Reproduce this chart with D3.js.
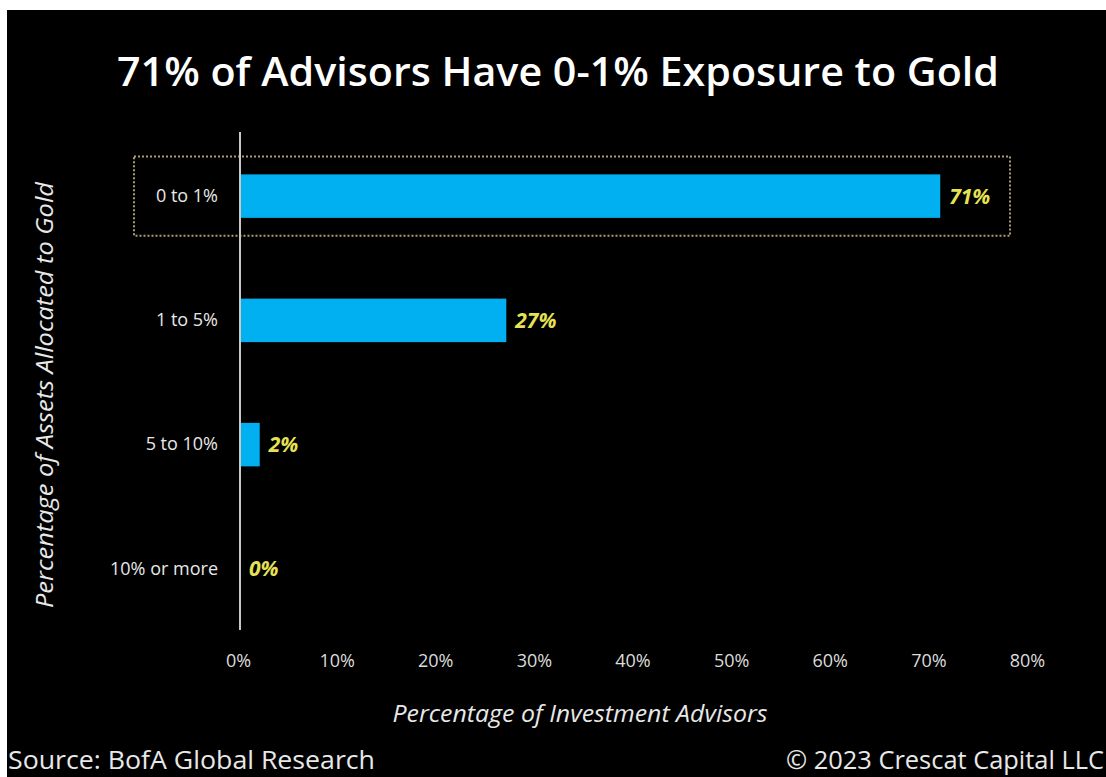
<!DOCTYPE html>
<html>
<head>
<meta charset="utf-8">
<script src="https://cdn.jsdelivr.net/npm/d3@7"></script>
<style>
  html, body { margin: 0; padding: 0; background: #ffffff; }
  svg { display: block; }
  text { font-family: "Open Sans", "Noto Sans", sans-serif; }
</style>
</head>
<body>
<svg id="chart" width="1106" height="777"></svg>
<script>
// Share of investment advisors by gold allocation bucket
const categories = ["0 to 1%", "1 to 5%", "5 to 10%", "10% or more"];
const advisorShare = [71, 27, 2, 0];
const xTicks = [0, 10, 20, 30, 40, 50, 60, 70, 80];
const highlighted = "0 to 1%";

const titleText = "71% of Advisors Have 0-1% Exposure to Gold";
const xTitle = "Percentage of Investment Advisors";
const yTitle = "Percentage of Assets Allocated to Gold";
const sourceText = "Source: BofA Global Research";
const creditText = "\u00A9 2023 Crescat Capital LLC";

const W = 1106, H = 777;
const svg = d3.select("#chart");

// dark panel
svg.append("rect").attr("x", 7).attr("y", 10).attr("width", W - 7).attr("height", H - 10).attr("fill", "#000");

const x = d3.scaleLinear().domain([0, 80]).range([240, 1029]);
const y = d3.scaleBand().domain(categories).range([134, 631]).paddingInner(0.65).paddingOuter(0.325);

// title
svg.append("text")
  .attr("x", 558).attr("y", 86)
  .attr("text-anchor", "middle")
  .attr("font-size", 40).attr("font-weight", 600)
  .attr("fill", "#ffffff")
  .attr("textLength", 882).attr("lengthAdjust", "spacingAndGlyphs")
  .text(titleText);

// highlight frame around the leading bucket
const hb = y(highlighted);
svg.append("rect")
  .attr("x", 134).attr("y", hb - 18)
  .attr("width", 1010 - 134).attr("height", y.bandwidth() + 36)
  .attr("fill", "none")
  .attr("stroke", "#a8a070").attr("stroke-width", 2)
  .attr("stroke-dasharray", "2,2");

// bars
svg.append("g").selectAll("rect")
  .data(categories)
  .join("rect")
  .attr("x", x(0))
  .attr("y", d => y(d))
  .attr("width", (d, i) => x(advisorShare[i]) - x(0))
  .attr("height", y.bandwidth())
  .attr("fill", "#00b0f0");

// value labels
svg.append("g").selectAll("text")
  .data(categories)
  .join("text")
  .attr("x", (d, i) => x(advisorShare[i]) + 9)
  .attr("y", d => y(d) + y.bandwidth() / 2)
  .attr("dy", "0.36em")
  .attr("font-size", 21).attr("font-weight", 700).attr("font-style", "italic")
  .attr("fill", "#e6e255")
  .text((d, i) => advisorShare[i] + "%");

// category axis
const yAxis = svg.append("g")
  .attr("transform", `translate(${x(0)},0)`)
  .call(d3.axisLeft(y).tickSize(0).tickPadding(22));
yAxis.select(".domain").attr("stroke", "#c8c8c8").attr("stroke-width", 2)
  .attr("d", `M0,132V630`);
yAxis.selectAll("text")
  .attr("font-family", "\"Open Sans\", sans-serif")
  .attr("font-size", 18).attr("fill", "#e8e8e8");

// value axis (labels only)
const xAxis = svg.append("g")
  .attr("transform", "translate(0,654)")
  .call(d3.axisBottom(x).tickValues(xTicks).tickFormat(d => d + "%").tickSize(0).tickPadding(0));
xAxis.select(".domain").remove();
xAxis.selectAll("text")
  .attr("font-family", "\"Open Sans\", sans-serif")
  .attr("font-size", 18).attr("fill", "#dcdcdc")
  .attr("dx", -2);

// axis titles
svg.append("text")
  .attr("x", 580).attr("y", 722)
  .attr("text-anchor", "middle")
  .attr("font-size", 23).attr("font-style", "italic")
  .attr("fill", "#e8e8e8")
  .attr("textLength", 375).attr("lengthAdjust", "spacingAndGlyphs")
  .text(xTitle);

svg.append("text")
  .attr("transform", "translate(53,395) rotate(-90)")
  .attr("text-anchor", "middle")
  .attr("font-size", 24).attr("font-style", "italic")
  .attr("fill", "#e8e8e8")
  .attr("textLength", 426).attr("lengthAdjust", "spacingAndGlyphs")
  .text(yTitle);

// footer
svg.append("text")
  .attr("x", 8).attr("y", 769)
  .attr("font-size", 25).attr("fill", "#e8e8e8")
  .attr("textLength", 367).attr("lengthAdjust", "spacingAndGlyphs")
  .text(sourceText);

svg.append("text")
  .attr("x", 1104).attr("y", 769)
  .attr("text-anchor", "end")
  .attr("font-size", 25).attr("fill", "#e8e8e8")
  .attr("textLength", 318).attr("lengthAdjust", "spacingAndGlyphs")
  .text(creditText);
</script>
</body>
</html>
